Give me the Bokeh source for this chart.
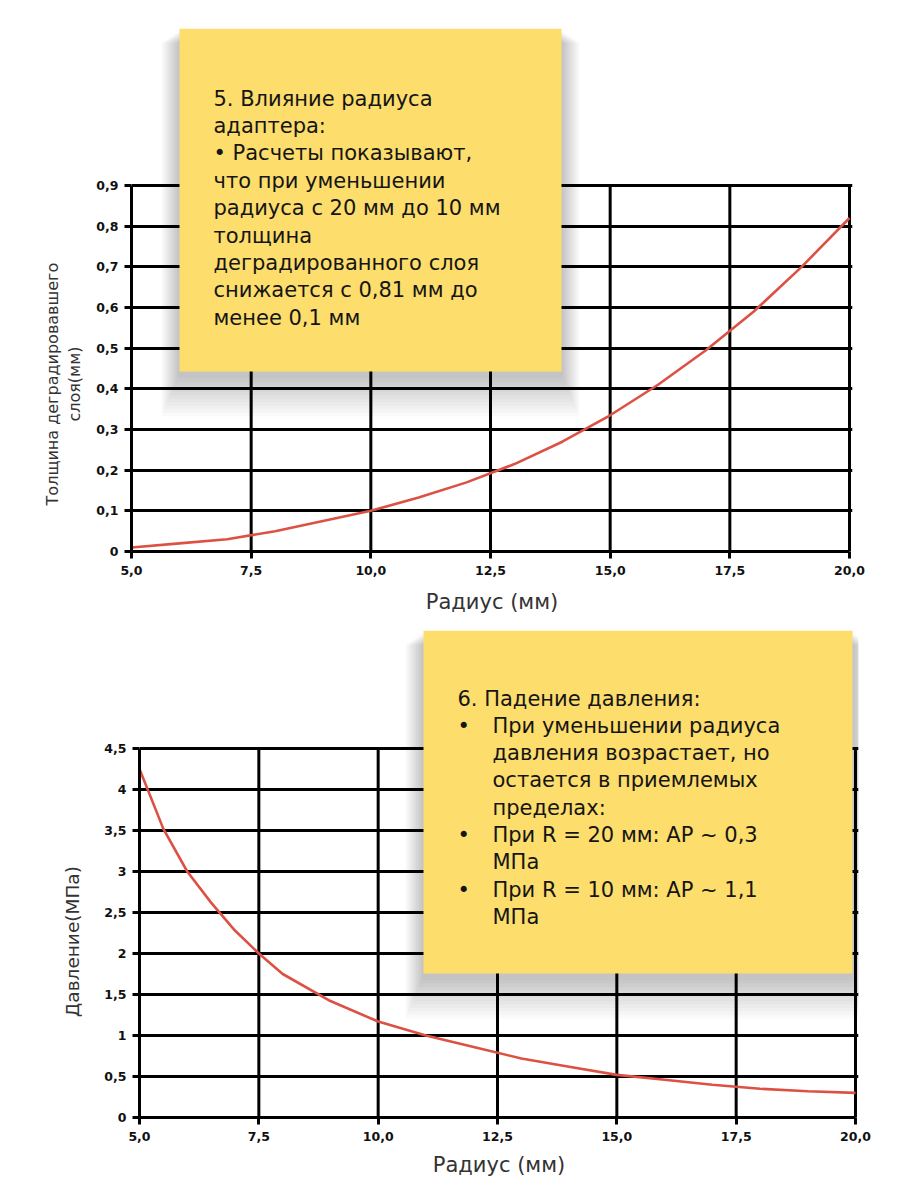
from bokeh.plotting import figure
from bokeh.models import FixedTicker, BoxAnnotation, Label
from bokeh.embed import file_html
from bokeh.resources import INLINE

# ---------------- data ----------------
radius_thick = [5, 6, 7, 8, 9, 10, 11, 12, 13, 14, 15, 16, 17, 18, 19, 20]
thickness = [0.010, 0.020, 0.030, 0.050, 0.075, 0.100, 0.133, 0.170, 0.215,
             0.270, 0.335, 0.410, 0.495, 0.590, 0.700, 0.820]

radius_press = [5, 5.5, 6, 6.5, 7, 7.5, 8, 9, 10, 11, 12, 13, 14, 15, 16, 17, 18, 19, 20]
pressure = [4.25, 3.52, 3.0, 2.62, 2.28, 2.0, 1.75, 1.42, 1.17, 1.0, 0.86, 0.72,
            0.62, 0.52, 0.46, 0.40, 0.35, 0.32, 0.30]

x_ticks = [5, 7.5, 10, 12.5, 15, 17.5, 20]
x_tick_labels = ["5,0", "7,5", "10,0", "12,5", "15,0", "17,5", "20,0"]
thick_ticks = [0, 0.1, 0.2, 0.3, 0.4, 0.5, 0.6, 0.7, 0.8, 0.9]
thick_tick_labels = ["0", "0,1", "0,2", "0,3", "0,4", "0,5", "0,6", "0,7", "0,8", "0,9"]
press_ticks = [0, 0.5, 1, 1.5, 2, 2.5, 3, 3.5, 4, 4.5]
press_tick_labels = ["0", "0,5", "1", "1,5", "2", "2,5", "3", "3,5", "4", "4,5"]

x_title = "Радиус (мм)"
thick_title_lines = ["Толщина деградировавшего", "слоя(мм)"]
press_title = "Давление(МПа)"

note1_lines = ["5. Влияние радиуса", "адаптера:", "• Расчеты показывают,",
               "что при уменьшении", "радиуса с 20 мм до 10 мм", "толщина",
               "деградированного слоя", "снижается с 0,81 мм до", "менее 0,1 мм"]
note2_title = "6. Падение давления:"
note2_lines = ["При уменьшении радиуса", "давления возрастает, но",
               "остается в приемлемых", "пределах:", "При R = 20 мм: AP ~ 0,3",
               "МПа", "При R = 10 мм: AP ~ 1,1", "МПа"]
note2_bullets = [True, False, False, False, True, False, True, False]

RED = "#DC5144"
NOTE = "#FDDD6C"
FONT = "DejaVu Sans"
NBSP = "\u00a0"


def make_fig(geom, y_max, y_ticks, y_labels, y_title, y_title_size,
             x_title_standoff, y_title_standoff):
    # geom: figure top (page px), figure height, px of x=5 / x=20,
    #       frame top (px), px of y=0, px of y=y_max
    top, height, fl, fr, ftop, y0px, ymaxpx = geom
    ppx = (fr - fl) / 15.0
    x_end = 20 + 3.0 / ppx
    ppy = (y0px - ymaxpx) / y_max
    y_end = (y0px - ftop) / ppy
    p = figure(width=899, height=height, x_range=(5, x_end), y_range=(0, y_end),
               output_backend="svg", toolbar_location=None,
               min_border_left=fl, min_border_right=899 - (fr + 3),
               min_border_top=ftop - top, min_border_bottom=top + height - y0px)
    p.outline_line_color = None
    p.background_fill_color = "white"
    p.border_fill_color = "white"
    for ax, ticks, labels in ((p.xaxis[0], x_ticks, x_tick_labels),
                              (p.yaxis[0], y_ticks, y_labels)):
        ax.ticker = FixedTicker(ticks=ticks)
        ax.major_label_overrides = {t: l for t, l in zip(ticks, labels)}
        ax.axis_line_color = "black"
        ax.axis_line_width = 3
        ax.major_tick_line_color = "black"
        ax.major_tick_line_width = 3
        ax.major_tick_out = 7
        ax.major_tick_in = 0
        ax.minor_tick_line_color = None
        ax.major_label_text_font = FONT
        ax.major_label_text_font_style = "bold"
        ax.major_label_text_font_size = "12.5px"
        ax.major_label_text_color = "#111111"
        ax.axis_label_text_font = FONT
        ax.axis_label_text_font_style = "normal"
        ax.axis_label_text_color = "#333333"
    p.xaxis.bounds = (5, 20)
    p.yaxis.bounds = (0, y_max)
    p.xaxis.major_label_standoff = 7
    p.yaxis.major_label_standoff = 6
    p.xaxis.axis_label = x_title
    p.xaxis.axis_label_text_font_size = "21px"
    p.xaxis.axis_label_standoff = x_title_standoff
    p.yaxis.axis_label = y_title
    p.yaxis.axis_label_text_font_size = y_title_size
    p.yaxis.axis_label_standoff = y_title_standoff
    p.xgrid.visible = False
    p.ygrid.ticker = FixedTicker(ticks=y_ticks)
    p.ygrid.grid_line_color = "black"
    p.ygrid.grid_line_width = 3
    p.ygrid.grid_line_alpha = 1.0
    # vertical grid lines limited to the data area (0 .. y_max)
    vx = x_ticks[1:]
    p.segment(x0=vx, y0=[0] * len(vx), x1=vx, y1=[y_max] * len(vx),
              line_color="black", line_width=3)
    conv = (lambda px: 5 + (px - fl) / ppx, lambda py: (y0px - py) / ppy)
    return p, conv


def add_note(p, conv, box):
    dx, dy = conv
    l, r, t, b = box
    for k in range(1, 13):
        p.add_layout(BoxAnnotation(left=dx(l - 1.5 * k), right=dx(r + 1.5 * k),
                                   top=dy(t + 2 + k), bottom=dy(b + 3 + 3.5 * k),
                                   fill_color="black", fill_alpha=0.02,
                                   line_color=None))
    p.add_layout(BoxAnnotation(left=dx(l), right=dx(r), top=dy(t), bottom=dy(b),
                               fill_color=NOTE, fill_alpha=1.0, line_color=None))


def add_text(p, conv, px, py, text):
    dx, dy = conv
    p.add_layout(Label(x=dx(px), y=dy(py), text=text, text_align="left",
                       text_baseline="alphabetic", text_font=FONT,
                       text_font_size="21px", text_color="#151515"))


# ---------------- chart 1 ----------------
# trailing no-break spaces move the centred (rotated) title down to the grid centre
thick_title = "\n".join(line + NBSP * 37 for line in thick_title_lines)
p1, conv1 = make_fig((0, 620, 131, 849, 28, 551, 185), 0.9,
                     thick_ticks, thick_tick_labels, thick_title, "16px", 12, 9)
p1.line(radius_thick, thickness, line_color=RED, line_width=2.6)
add_note(p1, conv1, (179, 561, 28, 371))
for i, line in enumerate(note1_lines):
    add_text(p1, conv1, 213, 98 + 27.4 * i, line)

# ---------------- chart 2 ----------------
p2, conv2 = make_fig((620, 575, 139, 855, 630, 1117, 748), 4.5,
                     press_ticks, press_tick_labels, press_title + NBSP * 23,
                     "18.5px", 9, 18)
p2.line(radius_press, pressure, line_color=RED, line_width=2.6)
add_note(p2, conv2, (423, 852, 630, 973))
add_text(p2, conv2, 457, 698, note2_title)
for i, (line, bul) in enumerate(zip(note2_lines, note2_bullets)):
    yb = 698 + 27.3 * (i + 1)
    if bul:
        add_text(p2, conv2, 457, yb, "•")
    add_text(p2, conv2, 492, yb, line)

open("out.html", "w").write(file_html([p1, p2], INLINE))
